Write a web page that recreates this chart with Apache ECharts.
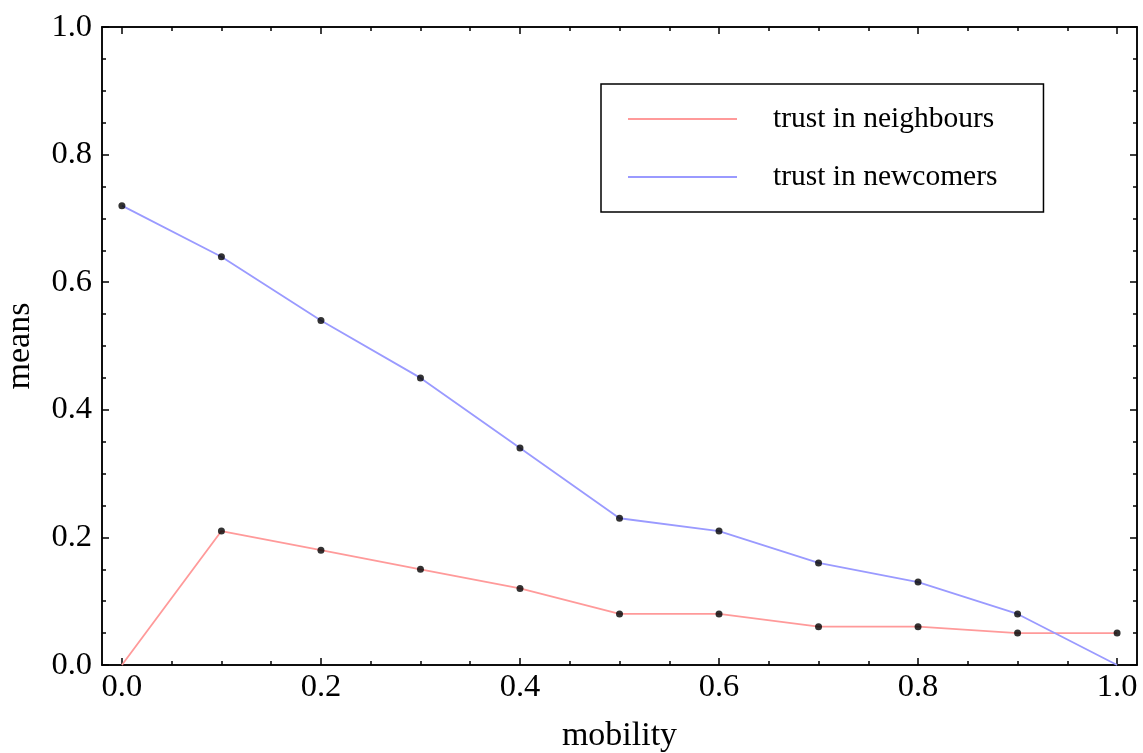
<!DOCTYPE html>
<html>
<head>
<meta charset="utf-8">
<script src="https://cdn.jsdelivr.net/npm/echarts@6/dist/echarts.min.js"></script>
<style>html,body{margin:0;padding:0;background:#fff;}#c{width:1143px;height:753px;}</style>
</head>
<body>
<div id="c"></div>
<script>
const mobility = [0.0, 0.1, 0.2, 0.3, 0.4, 0.5, 0.6, 0.7, 0.8, 0.9, 1.0];
const trustNeighbours = [0.0, 0.21, 0.18, 0.15, 0.12, 0.08, 0.08, 0.06, 0.06, 0.05, 0.05];
const trustNewcomers = [0.72, 0.64, 0.54, 0.45, 0.34, 0.23, 0.21, 0.16, 0.13, 0.08, 0.0];
const majorTicks = [0.0, 0.2, 0.4, 0.6, 0.8, 1.0];
const minorTicks = [0.05, 0.1, 0.15, 0.25, 0.3, 0.35, 0.45, 0.5, 0.55, 0.65, 0.7, 0.75, 0.85, 0.9, 0.95];
const seriesNames = ['trust in neighbours', 'trust in newcomers'];
const xName = 'mobility';
const yName = 'means';

const FONT = 'Liberation Serif';
const frame = {show: true, onZero: false, lineStyle: {color: '#000', width: 1.5}};
function axis(pos, min, max, major, withLabels, extra) {
  return Object.assign({
    type: 'value', position: pos, min: min, max: max,
    axisLine: frame,
    splitLine: {show: false},
    axisTick: {show: true, inside: true, length: major ? 7 : 4, customValues: major ? majorTicks : minorTicks,
      lineStyle: {color: '#000', width: 1.5}},
    axisLabel: {show: false}
  }, extra || {});
}
const labelStyle = (margin) => ({show: true, customValues: majorTicks, fontFamily: FONT, fontSize: 32.5,
  color: '#000', margin: margin, formatter: v => v.toFixed(1)});
const nameStyle = {fontFamily: FONT, fontSize: 34, color: '#000'};
const pts = (arr) => mobility.map((x, i) => [x, arr[i]]);
const dots = (arr) => mobility.map((x, i) => [x, arr[i]]).filter(p => p[1] > 0);

const chart = echarts.init(document.getElementById('c'));
chart.setOption({
  animation: false,
  backgroundColor: '#fff',
  grid: {left: 102, right: 6, top: 27, bottom: 88, containLabel: false, outerBoundsMode: 'none'},
  xAxis: [
    axis('bottom', -0.02, 1.02, true, true, {name: xName, nameLocation: 'middle', nameGap: 54,
      nameTextStyle: nameStyle, axisLabel: labelStyle(6)}),
    axis('bottom', -0.02, 1.02, false, false),
    axis('top', -0.02, 1.02, true, false),
    axis('top', -0.02, 1.02, false, false)
  ],
  yAxis: [
    axis('left', 0, 1, true, true, {name: yName, nameLocation: 'middle', nameGap: 65, nameRotate: 90,
      nameTextStyle: nameStyle, axisLabel: labelStyle(10)}),
    axis('left', 0, 1, false, false),
    axis('right', 0, 1, true, false),
    axis('right', 0, 1, false, false)
  ],
  legend: {
    orient: 'vertical', left: 601, top: 84,
    data: seriesNames,
    icon: 'rect',
    itemWidth: 109, itemHeight: 2, itemGap: 28,
    padding: [20, 46, 20, 27],
    borderColor: '#000', borderWidth: 1.5,
    textStyle: {fontFamily: FONT, fontSize: 29.5, color: '#000', padding: [0, 0, 0, 31]}
  },
  series: [
    {name: seriesNames[0], type: 'line', data: pts(trustNeighbours), symbol: 'none',
      lineStyle: {color: '#ff9a9a', width: 1.8}, itemStyle: {color: '#ff9a9a'}},
    {name: seriesNames[1], type: 'line', data: pts(trustNewcomers), symbol: 'none',
      lineStyle: {color: '#9a9aff', width: 1.8}, itemStyle: {color: '#9a9aff'}},
    {type: 'scatter', data: dots(trustNeighbours), symbolSize: 7, itemStyle: {color: '#000'}, z: 5},
    {type: 'scatter', data: dots(trustNewcomers), symbolSize: 7, itemStyle: {color: '#000'}, z: 5}
  ]
});
</script>
</body>
</html>
